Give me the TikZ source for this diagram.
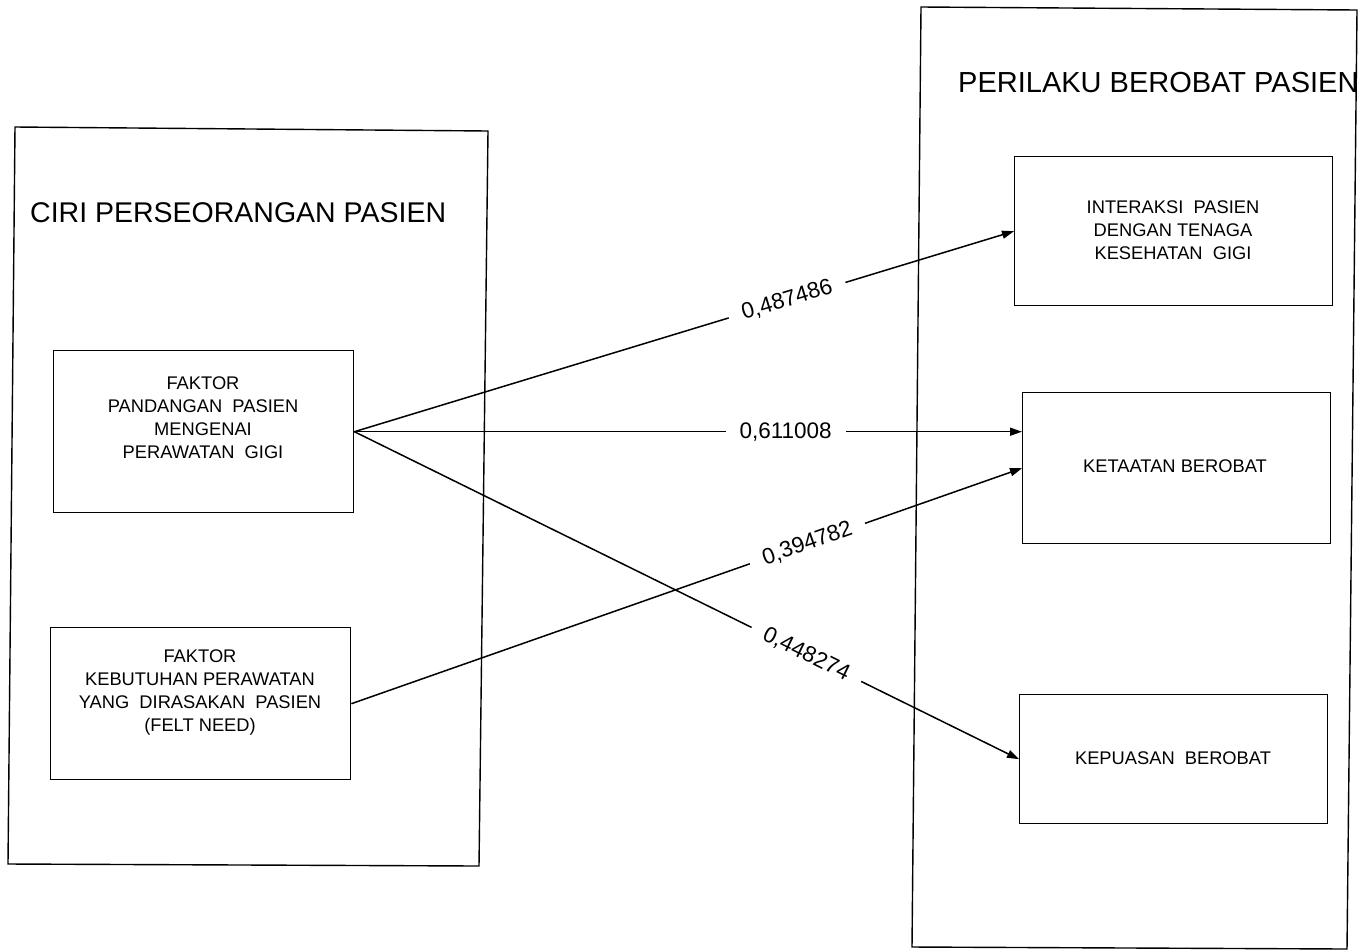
\documentclass[tikz,border=0pt]{standalone}
\usepackage{fontspec}
\setmainfont{Liberation Sans}
\usetikzlibrary{arrows.meta}
\begin{document}
\begin{tikzpicture}[x=1pt,y=-1pt,
  frame/.style={line width=1.4pt, line join=miter},
  box/.style={draw, line width=1.4pt, inner sep=0pt, anchor=north west},
  title/.style={font=\fontsize{28.5}{34}\selectfont, anchor=base west, inner sep=0pt},
  boxtext/.style={font=\fontsize{18.3}{23}\selectfont, align=center, inner sep=0pt},
  link/.style={line width=1.5pt, -{Triangle[length=12pt,width=8pt]}},
  weight/.style={font=\fontsize{22.5}{26}\selectfont, fill=white, sloped, inner xsep=14pt, inner ysep=1pt}]
\useasboundingbox (0,0) rectangle (1372,951);
\fill[white] (0,0) rectangle (1372,951);

% outer frames
\draw[frame] (15,127) -- (488,131) -- (479,866) -- (8,864) -- cycle;
\draw[frame] (921,7) -- (1357,10) -- (1347,949) -- (912,947) -- cycle;

% titles
\node[title] (tl) at (30,222) {CIRI PERSEORANGAN PASIEN};
\node[title, font=\fontsize{29}{34}\selectfont] (tr) at (958,92) {PERILAKU BEROBAT PASIEN};

% left boxes
\node[box, minimum width=300pt, minimum height=162pt] (A) at (53,350) {};
\node[boxtext] (At) at (203,417.5) {FAKTOR\\PANDANGAN~~PASIEN\\MENGENAI\\PERAWATAN~~GIGI};
\node[box, minimum width=300pt, minimum height=152pt] (B) at (50,627) {};
\node[boxtext] (Bt) at (200,692) {FAKTOR\\KEBUTUHAN PERAWATAN\\YANG~~DIRASAKAN~~PASIEN\\(FELT NEED)};

% right boxes
\node[box, minimum width=318pt, minimum height=149pt] (I) at (1014,156) {};
\node[boxtext] (It) at (1173,230.5) {INTERAKSI~~PASIEN\\DENGAN TENAGA\\KESEHATAN~~GIGI};
\node[box, minimum width=308pt, minimum height=151pt] (K) at (1022,392) {};
\node[boxtext] (Kt) at (1175,466.5) {KETAATAN BEROBAT};
\node[box, minimum width=308pt, minimum height=129pt] (P) at (1019,694) {};
\node[boxtext] (Pt) at (1173,758.5) {KEPUASAN~~BEROBAT};

% connectors
\draw[link] (A.east) -- node[weight, pos=0.656] (w1) {0,487486} (I.west);
\draw[link] (A.east) -- node[weight, pos=0.646] (w2) {0,611008} (A.east -| K.west);
\draw[link] (B.east) -- node[weight, pos=0.68] (w3) {0,394782} (K.west);
\draw[link] (A.east) -- node[weight, pos=0.68] (w4) {0,448274} (P.west);
\end{tikzpicture}
\end{document}
